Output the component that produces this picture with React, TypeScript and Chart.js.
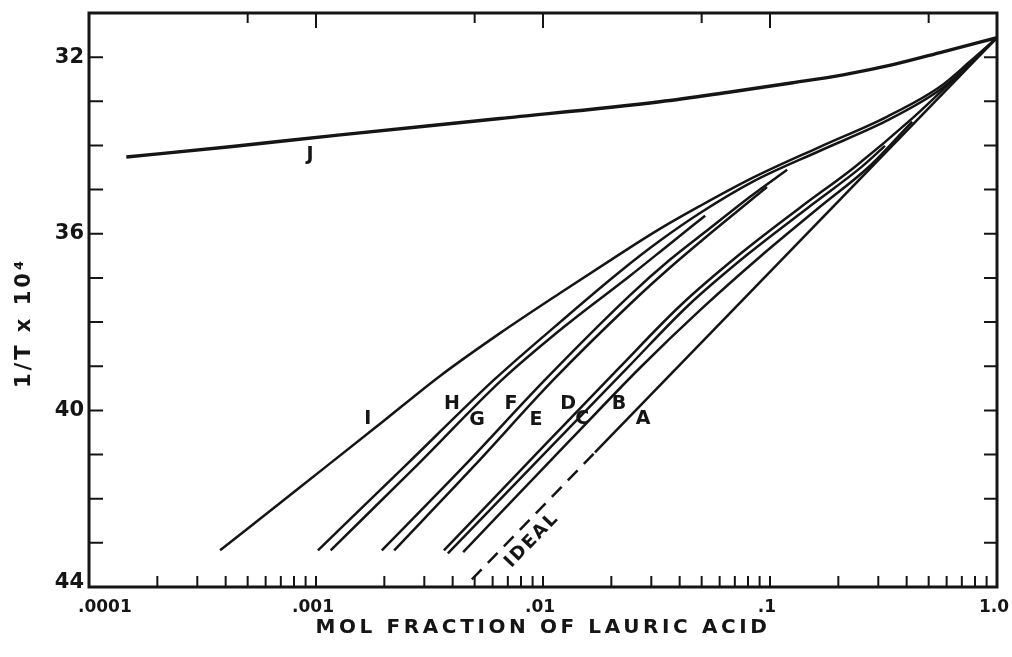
import React, { useEffect, useRef } from "react";
import { Chart, registerables } from "chart.js";

Chart.register(...registerables);

const FONT = '"DejaVu Sans", "Liberation Sans", sans-serif';
const INK = "#151515";

// Solubility curves: mole fraction of lauric acid (x) against 1/T x 10^4 (y)
const xJ = [1.46e-4, 4.18e-4, 1.28e-3, 6.47e-3, 0.0327, 0.0647, 0.126, 0.21, 0.348, 0.578, 1.0];
const yJ = [34.26, 34.03, 33.76, 33.39, 33.01, 32.8, 32.58, 32.4, 32.17, 31.88, 31.56];

const xI = [3.78e-4, 8.5e-4, 1.91e-3, 3.52e-3, 6.47e-3, 0.0119, 0.0218, 0.0327, 0.0492, 0.0841, 0.166, 0.327, 0.561, 0.76, 1.0];
const yI = [43.17, 41.74, 40.31, 39.22, 38.25, 37.34, 36.46, 35.89, 35.37, 34.73, 34.03, 33.35, 32.67, 32.1, 31.56];

const xH = [1.02e-3, 2.49e-3, 6.08e-3, 0.0119, 0.0218, 0.0327, 0.0492, 0.0841, 0.166, 0.327, 0.561, 0.76, 1.0];
const yH = [43.17, 41.24, 39.31, 38.0, 36.86, 36.16, 35.53, 34.82, 34.12, 33.44, 32.74, 32.15, 31.56];

const xG = [1.16e-3, 2.79e-3, 6.59e-3, 0.0125, 0.0242, 0.0362, 0.0518];
const yG = [43.17, 41.24, 39.31, 38.09, 36.95, 36.23, 35.59];

const xF = [1.95e-3, 4.53e-3, 0.0102, 0.0242, 0.0362, 0.0545, 0.0817, 0.119];
const yF = [43.17, 41.24, 39.31, 37.39, 36.59, 35.87, 35.16, 34.55];

const xE = [2.21e-3, 5.01e-3, 0.0111, 0.0242, 0.0362, 0.0518, 0.0738, 0.097];
const yE = [43.17, 41.24, 39.31, 37.59, 36.77, 36.09, 35.44, 34.94];

const xD = [3.66e-3, 0.0107, 0.0218, 0.0402, 0.0738, 0.1355, 0.237, 0.427, 0.687, 1.0];
const yD = [43.17, 40.67, 39.02, 37.63, 36.46, 35.41, 34.48, 33.37, 32.37, 31.56];

const xC = [3.81e-3, 0.0116, 0.0237, 0.0435, 0.08, 0.147, 0.254, 0.321];
const yC = [43.24, 40.67, 39.02, 37.63, 36.46, 35.41, 34.48, 34.01];

const xB = [4.45e-3, 0.0132, 0.0267, 0.0492, 0.0904, 0.166, 0.276, 0.423];
const yB = [43.21, 40.67, 39.04, 37.73, 36.52, 35.39, 34.46, 33.46];

const xA = [0.01694, 1.0];
const yA = [40.95, 31.56];

const xIdeal = [4.86e-3, 0.01694];
const yIdeal = [43.83, 40.95];

// Curve letters and where they sit (data coordinates)
const curveLabels = ["J", "I", "H", "G", "F", "E", "D", "C", "B", "A"];
const curveLabelX = [9.42e-4, 1.69e-3, 3.97e-3, 5.12e-3, 7.23e-3, 9.31e-3, 0.0129, 0.0149, 0.0216, 0.0276];
const curveLabelY = [34.21, 40.2, 39.86, 40.22, 39.86, 40.22, 39.86, 40.2, 39.86, 40.2];

const idealLabel = "IDEAL";
const idealLabelX = 8.95e-3;
const idealLabelY = 42.94;

// Axes
const xTickValues = [0.0001, 0.001, 0.01, 0.1, 1];
const xTickLabels = [".0001", ".001", ".01", ".1", "1.0"];
const xTopTicks = [5e-4, 1e-3, 5e-3, 1e-2, 5e-2, 1e-1, 5e-1];
const yTickValues = [32, 36, 40, 44];
const yTickLabels = ["32", "36", "40", "44"];
const yTickMarks = [32, 33, 34, 35, 36, 37, 38, 39, 40, 41, 42, 43];
const xTitle = "MOL FRACTION OF LAURIC ACID";
const yTitle = "1/T x 10\u2074";

const toPoints = (xs: number[], ys: number[]) => xs.map((x, i) => ({ x, y: ys[i] }));

const curve = (xs: number[], ys: number[], width = 2.5, dash: number[] = []) => ({
  data: toPoints(xs, ys),
  showLine: true,
  borderColor: INK,
  borderWidth: width,
  borderDash: dash,
  pointRadius: 0,
  fill: false,
  cubicInterpolationMode: "monotone" as const,
  borderCapStyle: "butt" as const,
});

const axesPlugin = {
  id: "paperAxes",
  afterDraw(chart: any) {
    const { ctx, chartArea } = chart;
    const xs = chart.scales.x;
    const ys = chart.scales.y;
    const { left, right, top, bottom } = chartArea;
    ctx.save();
    ctx.strokeStyle = INK;
    ctx.fillStyle = INK;

    // frame
    ctx.lineWidth = 3;
    ctx.strokeRect(left, top, right - left, bottom - top);

    // inward tick marks
    ctx.lineWidth = 2;
    ctx.beginPath();
    yTickMarks.forEach((v) => {
      const py = ys.getPixelForValue(v);
      ctx.moveTo(left, py);
      ctx.lineTo(left + 14, py);
      ctx.moveTo(right, py);
      ctx.lineTo(right - 13, py);
    });
    for (let d = -4; d < 0; d++) {
      for (let m = 1; m < 10; m++) {
        if (d === -4 && m === 1) continue;
        const px = xs.getPixelForValue(m * Math.pow(10, d));
        ctx.moveTo(px, bottom);
        ctx.lineTo(px, bottom - 11);
      }
    }
    xTopTicks.forEach((v) => {
      const px = xs.getPixelForValue(v);
      const isDecade = Math.abs(Math.log10(v) - Math.round(Math.log10(v))) < 1e-6;
      ctx.moveTo(px, top);
      ctx.lineTo(px, top + (isDecade ? 15 : 10));
    });
    ctx.stroke();

    // tick labels
    ctx.font = `bold 21px ${FONT}`;
    ctx.textAlign = "right";
    ctx.textBaseline = "middle";
    yTickValues.forEach((v, i) => {
      const py = ys.getPixelForValue(v) - (v === 44 ? 4 : 0);
      ctx.fillText(yTickLabels[i], left - 5, py);
    });

    ctx.font = `bold 17px ${FONT}`;
    ctx.textBaseline = "middle";
    xTickValues.forEach((v, i) => {
      const px = xs.getPixelForValue(v);
      if (i === 0) {
        ctx.textAlign = "left";
        ctx.fillText(xTickLabels[i], px - 11, bottom + 21);
      } else {
        ctx.textAlign = "center";
        ctx.fillText(xTickLabels[i], px - 3, bottom + 21);
      }
    });

    // axis titles
    (ctx as any).letterSpacing = "3.6px";
    ctx.font = `bold 20px ${FONT}`;
    ctx.textAlign = "center";
    ctx.fillText(xTitle, (left + right) / 2, bottom + 41);

    (ctx as any).letterSpacing = "3px";
    ctx.font = `bold 21px ${FONT}`;
    ctx.translate(25, (top + bottom) / 2 + 23);
    ctx.rotate(-Math.PI / 2);
    ctx.fillText(yTitle, 0, 0);
    (ctx as any).letterSpacing = "0px";
    ctx.restore();
  },
};

const labelPlugin = {
  id: "curveLetters",
  afterDatasetsDraw(chart: any) {
    const { ctx } = chart;
    const xs = chart.scales.x;
    const ys = chart.scales.y;
    ctx.save();
    ctx.fillStyle = INK;
    ctx.font = `bold 19px ${FONT}`;
    ctx.textAlign = "center";
    ctx.textBaseline = "middle";
    curveLabels.forEach((t, i) => {
      ctx.fillText(t, xs.getPixelForValue(curveLabelX[i]), ys.getPixelForValue(curveLabelY[i]));
    });

    const p0x = xs.getPixelForValue(xIdeal[0]);
    const p0y = ys.getPixelForValue(yIdeal[0]);
    const p1x = xs.getPixelForValue(xIdeal[1]);
    const p1y = ys.getPixelForValue(yIdeal[1]);
    const angle = Math.atan2(p1y - p0y, p1x - p0x);
    ctx.translate(xs.getPixelForValue(idealLabelX), ys.getPixelForValue(idealLabelY));
    ctx.rotate(angle);
    (ctx as any).letterSpacing = "2px";
    ctx.font = `bold 18px ${FONT}`;
    ctx.fillText(idealLabel, 0, 0);
    (ctx as any).letterSpacing = "0px";
    ctx.restore();
  },
};

export default function App() {
  const canvasRef = useRef<HTMLCanvasElement | null>(null);

  useEffect(() => {
    if (!canvasRef.current) return;
    const chart = new Chart(canvasRef.current, {
      type: "scatter",
      data: {
        datasets: [
          curve(xJ, yJ, 3.4),
          curve(xI, yI),
          curve(xH, yH),
          curve(xG, yG),
          curve(xF, yF),
          curve(xE, yE),
          curve(xD, yD),
          curve(xC, yC),
          curve(xB, yB),
          curve(xA, yA),
          curve(xIdeal, yIdeal, 2.5, [14, 9]),
        ] as any,
      },
      options: {
        animation: false,
        responsive: false,
        maintainAspectRatio: false,
        layout: { padding: { left: 89, top: 13, right: 15, bottom: 70 } },
        plugins: { legend: { display: false }, tooltip: { enabled: false } },
        scales: {
          x: { type: "logarithmic", min: 0.0001, max: 1, display: false },
          y: { type: "linear", min: 31, max: 44, reverse: true, display: false },
        },
      },
      plugins: [axesPlugin, labelPlugin],
    });
    return () => chart.destroy();
  }, []);

  return (
    <div style={{ position: "absolute", left: 0, top: 0, width: 1012, height: 657, background: "#fff" }}>
      <canvas ref={canvasRef} width={1012} height={657} />
    </div>
  );
}
